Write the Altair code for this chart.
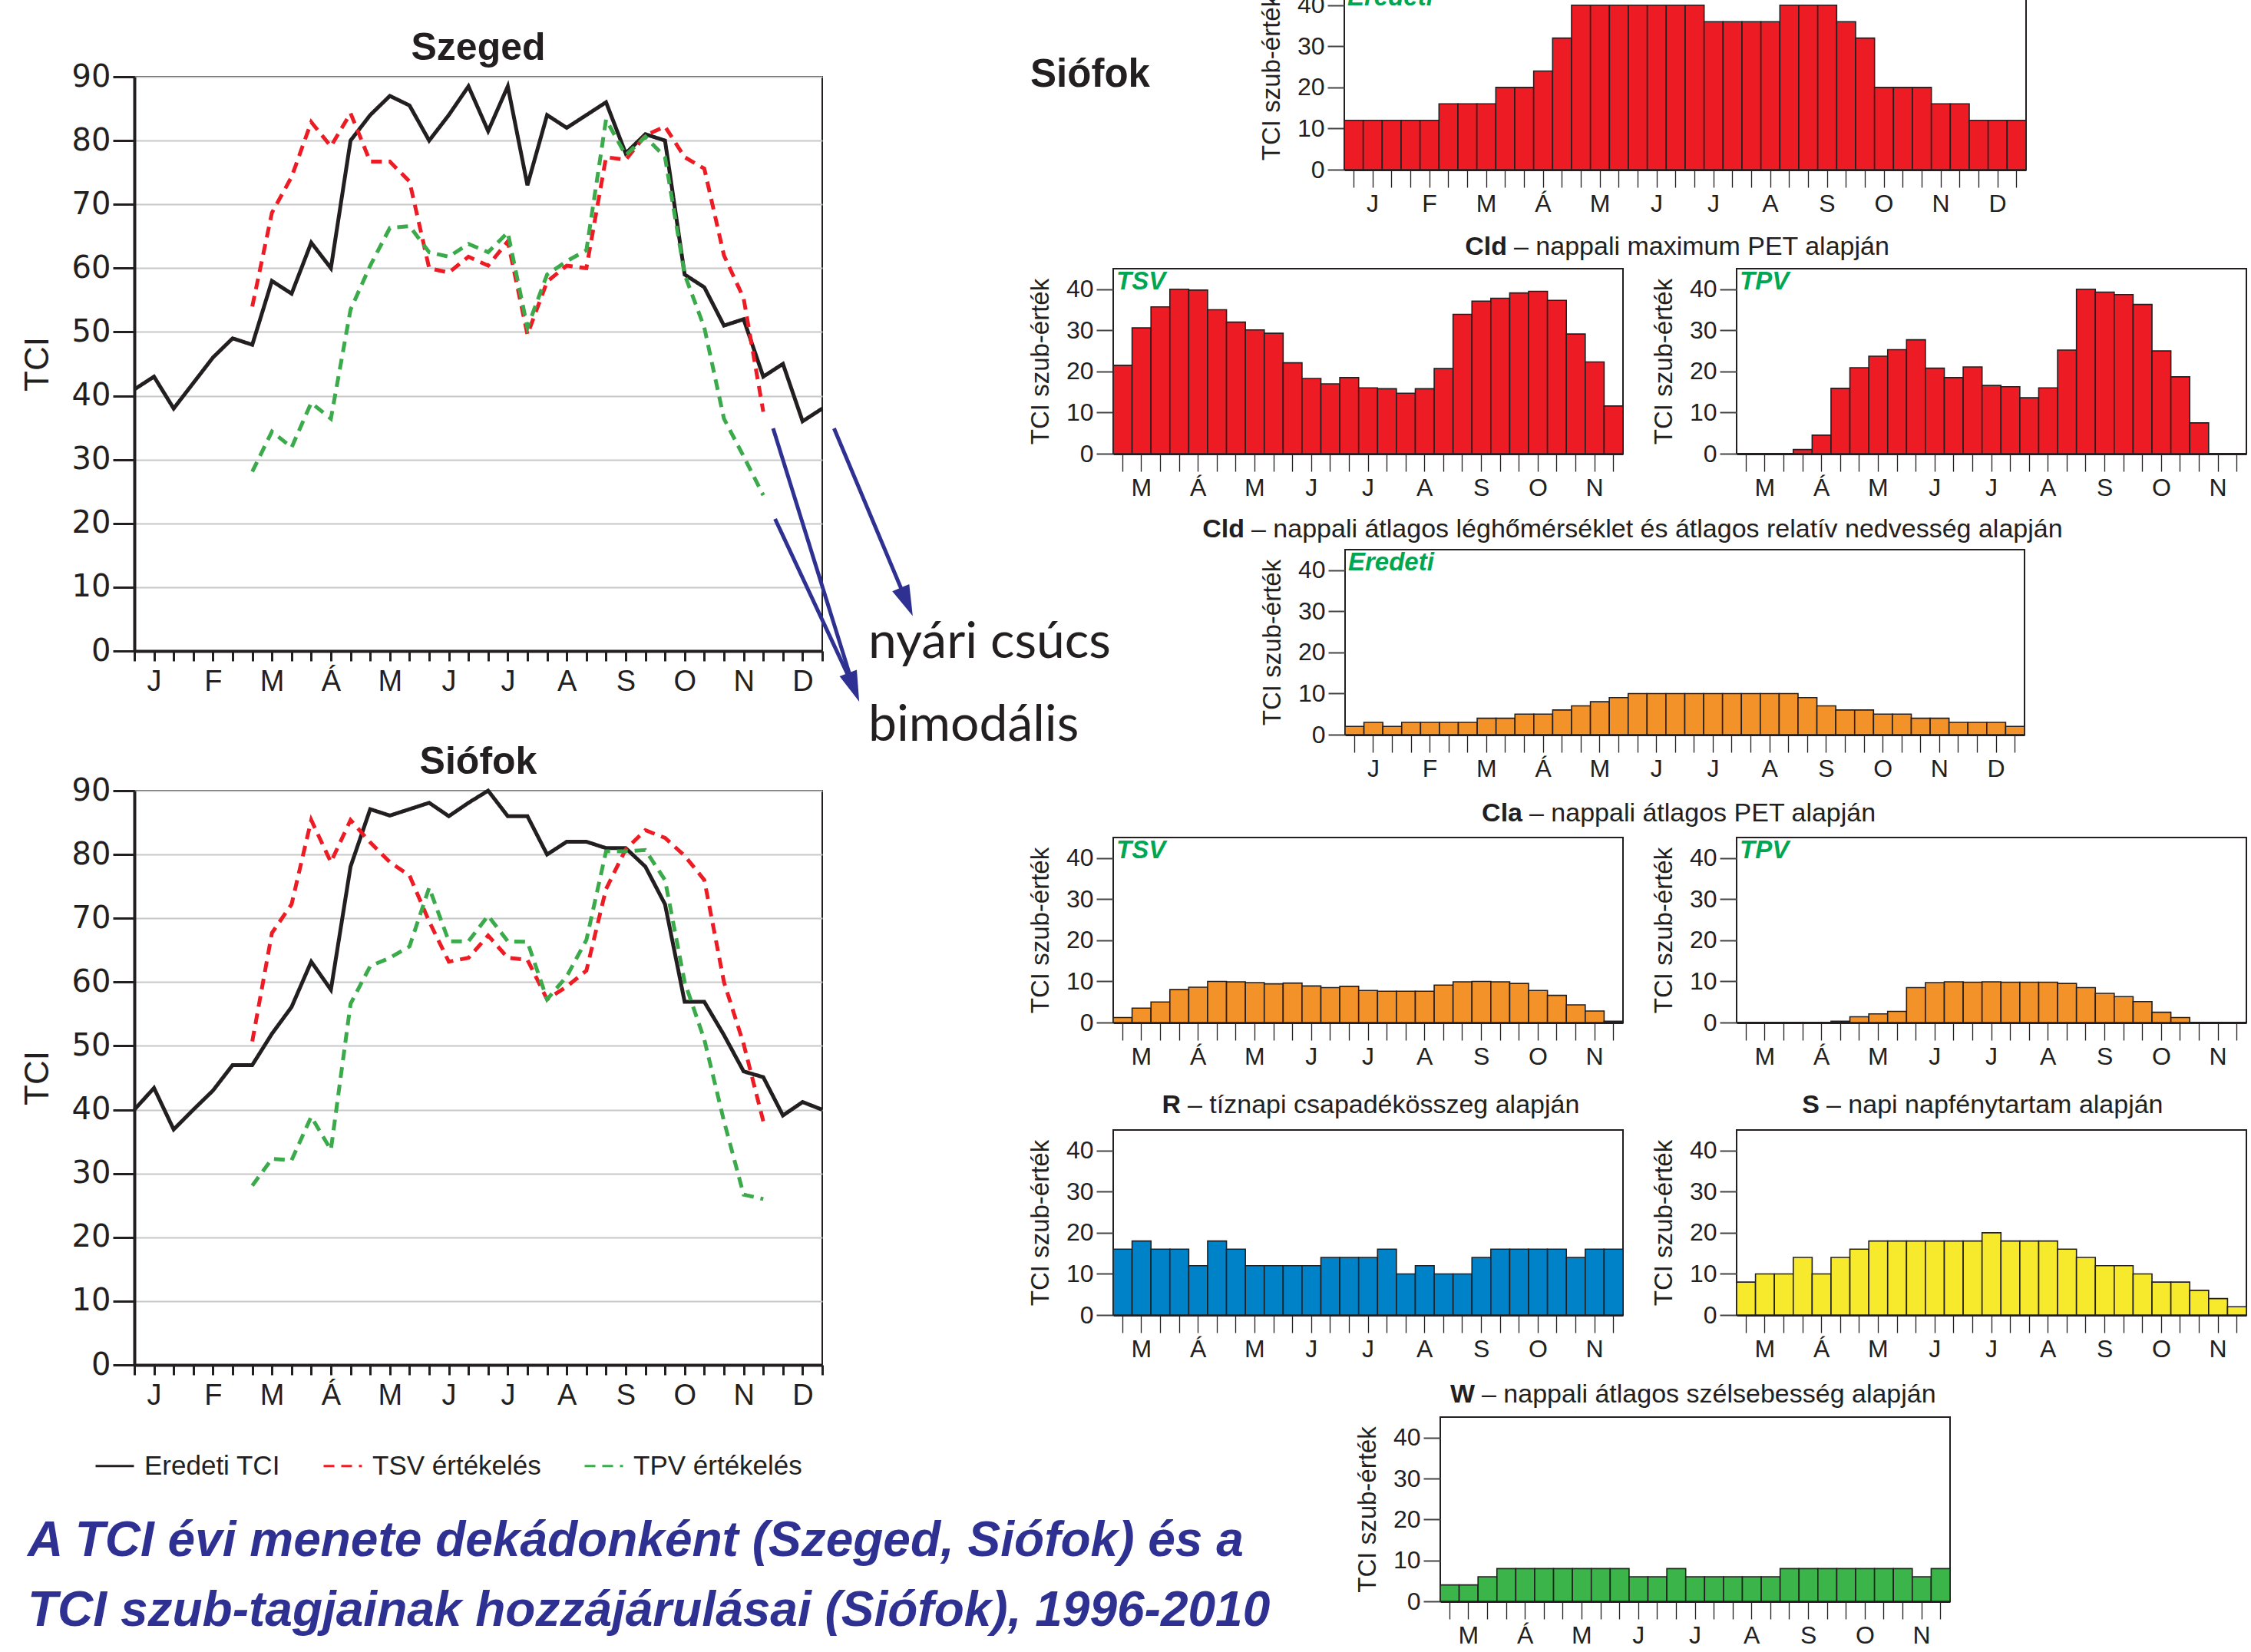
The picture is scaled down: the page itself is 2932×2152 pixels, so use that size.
import altair as alt
import pandas as pd

# ---------------- data ----------------
MONTHS_YEAR = ['J', 'F', 'M', 'Á', 'M', 'J', 'J', 'A', 'S', 'O', 'N', 'D']
MONTHS_SEASON = ['M', 'Á', 'M', 'J', 'J', 'A', 'S', 'O', 'N']
SERIES = ['Eredeti TCI', 'TSV értékelés', 'TPV értékelés']

# decade index 0..35 (TSV/TPV from index 6 = March 1st decade to 32)
szeged_tci = [41, 43, 38, 42, 46, 49, 48, 58, 56, 64, 60, 80, 84, 87, 85.5, 80, 84, 88.5,
              81.5, 88.5, 73, 84, 82, 84, 86, 78, 81, 80, 59, 57, 51, 52, 43, 45, 36, 38]
szeged_tsv = [54, 68.7, 74.3, 82.9, 79.1, 84.3, 76.7, 76.7, 73.6, 60, 59.3, 61.8, 60.4, 64.2,
              49.6, 57.9, 60.4, 60, 77.4, 77, 80.8, 82.2, 77.4, 75.6, 62, 55.3, 37.5]
szeged_tpv = [28.1, 34.4, 31.9, 38.9, 36.4, 53.5, 60.4, 66.3, 66.6, 62.5, 61.8, 63.8, 62.5, 65.6,
              50.7, 59, 61.1, 62.8, 83.3, 77.7, 80.6, 77.4, 59, 50.7, 36.4, 30.5, 24.4]
siofok_tci = [40, 43.4, 36.9, 40, 43, 47, 47, 51.9, 56.1, 63.2, 58.8, 78.1, 87.1, 86.1, 87.1, 88.1,
              86, 88.1, 90, 86, 86, 80, 82, 82, 81, 81, 78.1, 72.2, 56.9, 56.9, 51.7, 46, 45.1,
              39.1, 41.2, 40]
siofok_tsv = [50.7, 67.7, 72.2, 85.4, 78.8, 85.4, 81.9, 78.8, 76.7, 69.5, 63.2, 63.8, 67.3, 63.8,
              63.5, 57.3, 59.3, 61.8, 74.6, 80.8, 83.8, 82.6, 79.8, 76, 60, 50.3, 38.2]
siofok_tpv = [28.1, 32.3, 32.1, 38.9, 33.7, 56.6, 62.5, 63.8, 65.6, 74.8, 66.4, 66.4, 70.4, 66.4,
              66.3, 57.3, 60.9, 66.6, 80.5, 80.5, 80.7, 76, 60, 51, 38.2, 26.7, 26]

cld_eredeti = [12, 12, 12, 12, 12, 16, 16, 16, 20, 20, 24, 32, 40, 40, 40, 40, 40, 40, 40, 36, 36,
               36, 36, 40, 40, 40, 36, 32, 20, 20, 20, 16, 16, 12, 12, 12]
cld_tsv = [21.5, 30.6, 35.7, 40, 39.8, 35, 32, 30.1, 29.3, 22.1, 18.3, 17, 18.5, 16, 15.8, 14.7,
           15.8, 20.7, 33.9, 37.1, 37.8, 39.1, 39.5, 37.3, 29.1, 22.3, 11.6]
cld_tpv = [0, 0, 0, 1.0, 4.5, 15.9, 20.9, 23.7, 25.3, 27.7, 20.8, 18.5, 21.1, 16.6, 16.3, 13.6,
           16, 25.2, 40, 39.3, 38.7, 36.3, 25, 18.7, 7.5, 0, 0]
cla_eredeti = [2, 3, 2, 3, 3, 3, 3, 4, 4, 5, 5, 6, 7, 8, 9, 10, 10, 10, 10, 10, 10, 10, 10, 10, 9,
               7, 6, 6, 5, 5, 4, 4, 3, 3, 3, 2]
cla_tsv = [1.2, 3.5, 5, 8, 8.6, 10, 9.9, 9.7, 9.4, 9.6, 8.9, 8.5, 8.8, 7.8, 7.6, 7.6, 7.6, 9.1,
           9.9, 10, 9.9, 9.5, 7.8, 6.6, 4.3, 2.8, 0.3]
cla_tpv = [0, 0, 0, 0, 0, 0.3, 1.4, 2.1, 2.7, 8.5, 9.7, 9.9, 9.8, 9.9, 9.8, 9.8, 9.8, 9.5, 8.5,
           7.1, 6.3, 5.1, 2.5, 1.2, 0, 0, 0]
r_vals = [16, 18, 16, 16, 12, 18, 16, 12, 12, 12, 12, 14, 14, 14, 16, 10, 12, 10, 10, 14, 16, 16,
          16, 16, 14, 16, 16]
s_vals = [8, 10, 10, 14, 10, 14, 16, 18, 18, 18, 18, 18, 18, 20, 18, 18, 18, 16, 14, 12, 12, 10,
          8, 8, 6, 4, 2]
w_vals = [4, 4, 6, 8, 8, 8, 8, 8, 8, 8, 6, 6, 8, 6, 6, 6, 6, 6, 8, 8, 8, 8, 8, 8, 8, 6, 8]

# annotation arrows (in Szeged chart data units: decade index, TCI)
arrow_x = [35.6, 32.5, 32.6]
arrow_y = [34.9, 34.9, 20.7]
arrow_x2 = [39.3, 36.6, 36.6]
arrow_y2 = [7.7, -5.7, -5.7]
head_x = [39.3, 36.6]
head_y = [7.7, -5.7]
head_angle = [157, 159]

# ---------------- style ----------------
INK = '#231F20'
FONT = 'Liberation Sans, Arial, sans-serif'
WIDE = 'DejaVu Sans, sans-serif'
GREEN_TAG = '#00A651'
NAVY = '#2E3192'
RED = '#ED1C24'
ORANGE = '#F39229'
BLUE = '#0082C8'
YELLOW = '#F7E92B'
GREEN = '#3BB54A'
NOTE_FONT = 'Lato, sans-serif'


def js_list(items):
    return '[' + ','.join("'" + m + "'" for m in items) + ']'


def text_mark(text, x, y, size, weight='normal', style='normal', color=INK, align='left',
              font=FONT, baseline='middle'):
    return alt.Chart(pd.DataFrame({'t': [text]})).mark_text(
        align=align, baseline=baseline, font=font, fontSize=size, fontWeight=weight,
        fontStyle=style, color=color
    ).encode(text='t:N', x=alt.value(x), y=alt.value(y))


def box(x1, y1, x2, y2):
    # invisible layout box: fixes the extent a panel occupies in the concat layout
    return alt.Chart(pd.DataFrame({'z': [0]})).mark_rect(opacity=0).encode(
        x=alt.value(x1), x2=alt.value(x2), y=alt.value(y1), y2=alt.value(y2))


def spacer(h=1):
    return box(0, 0, 1, h).properties(width=1, height=h,
                                      view=alt.ViewBackground(stroke='transparent'))


def bar_panel(vals, months, color, width, bbox, height=241, tag=None, title=None, extras=()):
    n = len(vals)
    df = pd.DataFrame({'d': list(range(n)), 'v': vals})
    expr = "datum.value % 3 == 1 ? " + js_list(months) + "[floor(datum.value / 3)] : ''"
    bars = alt.Chart(df).mark_bar(color=color, stroke=INK, strokeWidth=1.6).encode(
        x=alt.X('d:O', scale=alt.Scale(paddingInner=0, paddingOuter=0),
                axis=alt.Axis(title=None, labelExpr=expr, labelAngle=0, labelFont=FONT,
                              labelFontSize=32, labelColor=INK, labelPadding=6,
                              labelOverlap=False, tickSize=23, tickWidth=1.3, tickColor=INK,
                              domain=True, domainWidth=3, domainColor=INK)),
        y=alt.Y('v:Q', scale=alt.Scale(domain=[0, 45], nice=False),
                axis=alt.Axis(values=[0, 10, 20, 30, 40], title='TCI szub-érték',
                              titleFont=FONT, titleFontSize=33, titleFontWeight='normal',
                              titleColor=INK, titlePadding=16, labelFont=FONT, labelFontSize=32,
                              labelColor=INK, labelPadding=4, tickSize=22, tickWidth=2,
                              tickColor='#444444', grid=False, domain=False))
    )
    layers = [bars]
    if tag:
        layers.append(text_mark(tag, 4, 17, 33, weight='bold', style='italic', color=GREEN_TAG))
    if title:
        bold, rest, xs, ys = title
        layers.append(text_mark(bold, xs, ys, 34, weight='bold', align='right'))
        layers.append(text_mark('– ' + rest, xs + 9, ys, 34, align='left'))
    layers.extend(extras)
    layers.append(box(*bbox))
    return alt.layer(*layers).properties(width=width, height=height)


color_scale = alt.Scale(domain=SERIES, range=[INK, RED, '#3AAA4A'])
dash_scale = alt.Scale(domain=SERIES, range=[[1, 0], [14, 9], [14, 9]])
month_expr = "datum.value % 3 == 1 ? " + js_list(MONTHS_YEAR) + "[floor(datum.value / 3)] : ''"

X_AXIS = alt.Axis(values=list(range(36)), labelExpr=month_expr, title=None, grid=False,
                  tickSize=13, tickWidth=3, tickColor=INK, domainWidth=4, domainColor=INK,
                  labelFont=FONT, labelFontSize=38, labelColor=INK, labelPadding=8,
                  labelAngle=0, labelFlush=False, labelOverlap=False)
Y_AXIS = alt.Axis(values=list(range(0, 91, 10)), title='TCI', titleFont=FONT, titleFontSize=44,
                  titleFontWeight='normal', titleColor=INK, titlePadding=22, grid=True,
                  gridColor='#C8C8C8', gridWidth=2, tickSize=28, tickWidth=3, tickColor=INK,
                  domainWidth=4, domainColor=INK, labelFont=WIDE, labelFontSize=40,
                  labelColor=INK, labelPadding=3, labelOverlap=False)
X_SCALE = alt.Scale(domain=[0, 35], nice=False, zero=False)
Y_SCALE = alt.Scale(domain=[0, 90], nice=False)


def xq(field='i'):
    return alt.X(field + ':Q', scale=X_SCALE, axis=X_AXIS)


def yq(field='v'):
    return alt.Y(field + ':Q', scale=Y_SCALE, axis=Y_AXIS)


def line_df(tci, tsv, tpv):
    rows = []
    for i, v in enumerate(tci):
        rows.append({'i': i, 'v': v, 's': SERIES[0]})
    for k, v in enumerate(tsv):
        rows.append({'i': k + 6, 'v': v, 's': SERIES[1]})
    for k, v in enumerate(tpv):
        rows.append({'i': k + 6, 'v': v, 's': SERIES[2]})
    return pd.DataFrame(rows)


def line_chart(df, title, bbox, legend=None, extras=()):
    base = alt.Chart(df).encode(
        x=xq(), y=yq(),
        color=alt.Color('s:N', scale=color_scale, legend=legend),
        strokeDash=alt.StrokeDash('s:N', scale=dash_scale, legend=legend),
    )
    layers = [base.transform_filter(alt.datum.s == name).mark_line(
        strokeWidth=5, strokeCap='butt', strokeJoin='miter') for name in SERIES]
    layers.append(text_mark(title, 448, -37, 50, weight='bold', align='center'))
    layers.extend(extras)
    layers.append(box(*bbox))
    return alt.layer(*layers).properties(width=896, height=748)


# ---------------- left column ----------------
arrows_df = pd.DataFrame({'i': arrow_x, 'v': arrow_y, 'i2': arrow_x2, 'v2': arrow_y2})
heads_df = pd.DataFrame({'i': head_x, 'v': head_y, 'a': head_angle})

arrow_rules = alt.Chart(arrows_df).mark_rule(color=NAVY, strokeWidth=5).encode(
    x=xq(), y=yq(), x2=alt.X2('i2:Q'), y2=alt.Y2('v2:Q'))
arrow_heads = alt.Chart(heads_df).mark_point(
    shape='M0,-1L0.6,1L-0.6,1Z', filled=True, opacity=1, color=NAVY, size=1600
).encode(x=xq(), y=yq(), angle=alt.Angle('a:Q', scale=None))

szeged = line_chart(line_df(szeged_tci, szeged_tsv, szeged_tpv), 'Szeged',
                    bbox=(-170, -80, 1100, 840), legend=None,
                    extras=[arrow_rules, arrow_heads])

leg = alt.Legend(orient='none', legendX=-52, legendY=853, direction='horizontal', title=None,
                 symbolType='stroke', symbolSize=2500, symbolStrokeWidth=3, labelFont=FONT,
                 labelFontSize=35, labelColor=INK, columnPadding=50, labelOffset=12,
                 labelLimit=500)
siofok = line_chart(line_df(siofok_tci, siofok_tsv, siofok_tpv), 'Siófok',
                    bbox=(-170, -88, 1100, 950), legend=leg)

left = alt.concat(spacer(38), szeged, siofok, columns=1, spacing=0,
                  align='each').resolve_scale(color='independent', strokeDash='independent')

# ---------------- right column ----------------
panel_a = bar_panel(cld_eredeti, MONTHS_YEAR, RED, 888, bbox=(-450, -2, 893, 311),
                    tag='Eredeti',
                    extras=[text_mark('Siófok', -331, 118, 51, weight='bold', align='center')])
panel_b1 = bar_panel(cld_tsv, MONTHS_SEASON, RED, 664, bbox=(-150, -57, 670, 311), tag='TSV')
panel_b2 = bar_panel(cld_tpv, MONTHS_SEASON, RED, 664, bbox=(-380, -57, 669, 311), tag='TPV',
                     title=('Cld', 'nappali maximum PET alapján', -299, -28))
panel_c = bar_panel(cla_eredeti, MONTHS_YEAR, ORANGE, 885, bbox=(-650, -53, 890, 311),
                    tag='Eredeti',
                    title=('Cld', 'nappali átlagos léghőmérséklet és átlagos relatív nedvesség alapján', -131, -26),
                    extras=[text_mark('nyári csúcs', -621, 121, 66, font=NOTE_FONT),
                            text_mark('bimodális', -621, 229, 66, font=NOTE_FONT)])
panel_d1 = bar_panel(cla_tsv, MONTHS_SEASON, ORANGE, 664, bbox=(-150, -62, 670, 311), tag='TSV')
panel_d2 = bar_panel(cla_tpv, MONTHS_SEASON, ORANGE, 664, bbox=(-380, -62, 669, 311), tag='TPV',
                     title=('Cla', 'nappali átlagos PET alapján', -279, -31))
panel_e1 = bar_panel(r_vals, MONTHS_SEASON, BLUE, 664, bbox=(-150, -68, 670, 311),
                     title=('R', 'tíznapi csapadékösszeg alapján', 88, -32))
panel_e2 = bar_panel(s_vals, MONTHS_SEASON, YELLOW, 664, bbox=(-380, -68, 669, 311),
                     title=('S', 'napi napfénytartam alapján', 108, -32))
panel_f = bar_panel(w_vals, MONTHS_SEASON, GREEN, 664, height=240,
                    bbox=(-1850, -61, 669, 300),
                    title=('W', 'nappali átlagos szélsebesség alapján', 45, -29),
                    extras=[text_mark('A TCI évi menete dekádonként (Szeged, Siófok) és a',
                                      -1840, 162, 64, weight='bold', style='italic', color=NAVY),
                            text_mark('TCI szub-tagjainak hozzájárulásai (Siófok), 1996-2010',
                                      -1840, 253, 64, weight='bold', style='italic', color=NAVY)])


def row(cells, spacing):
    return alt.concat(*cells, columns=len(cells), spacing=spacing, align='each')


row_a = row([spacer(), panel_a], -152)
row_b = row([panel_b1, panel_b2], -240)
row_c = row([spacer(), panel_c], -351)
row_d = row([panel_d1, panel_d2], -240)
row_e = row([panel_e1, panel_e2], -240)
row_f = row([spacer(), panel_f], -1427)

right = alt.concat(row_a, row_b, row_c, row_d, row_e, row_f, columns=1, spacing=0, align='each')

chart = alt.concat(left, right, columns=2, spacing=-1251, align='each').properties(
    padding={'left': 4, 'top': -23, 'right': 0, 'bottom': 0}
).configure_view(stroke=INK, strokeWidth=2)

chart.save('out.html', embed_options={'renderer': 'svg', 'actions': False})
